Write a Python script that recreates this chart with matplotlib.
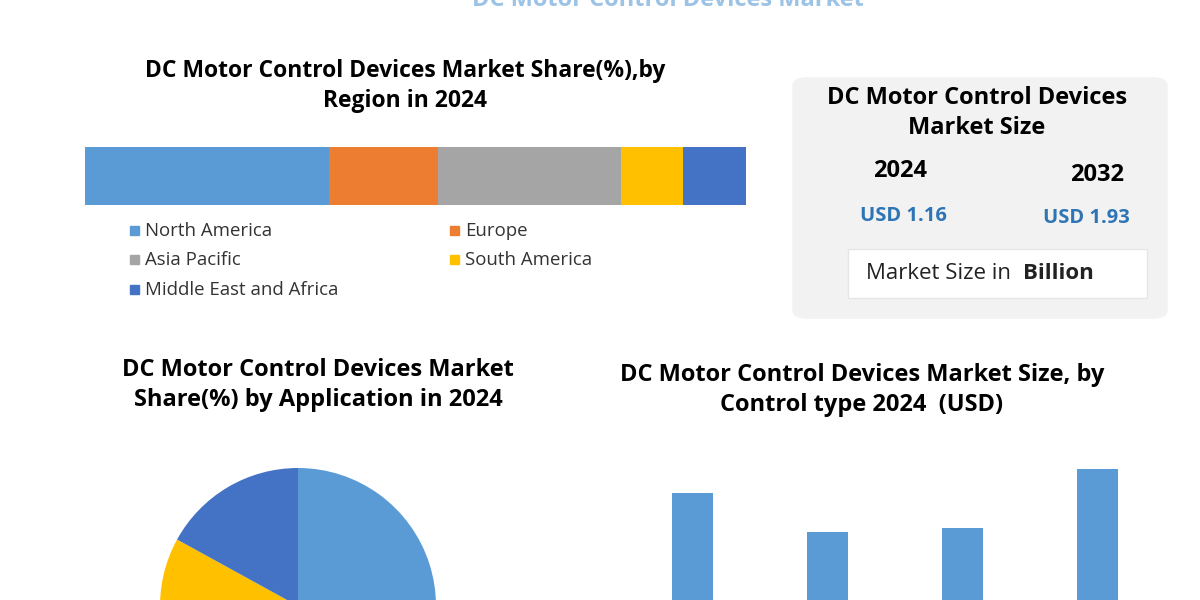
import matplotlib.pyplot as plt
from matplotlib.patches import FancyBboxPatch, Rectangle

plt.rcParams['font.family'] = ['Open Sans', 'DejaVu Sans']

regions = ['North America', 'Europe', 'Asia Pacific', 'South America', 'Middle East and Africa']
region_share = [36.9, 16.5, 27.7, 9.4, 9.5]
region_colors = ['#5b9bd5', '#ed7d31', '#a5a5a5', '#ffc000', '#4472c4']

app_share = [40, 15, 10, 18, 17]
app_colors = ['#5b9bd5', '#ed7d31', '#a5a5a5', '#ffc000', '#4472c4']

control_types = ['A', 'B', 'C', 'D']
control_values = [147, 108, 112, 171]

fig = plt.figure(figsize=(12, 6), dpi=100)
W, H = 1200, 600


def box(x0, y0, x1, y1):
    # pixel box (top-left origin) -> figure fractions
    return [x0 / W, 1 - y1 / H, (x1 - x0) / W, (y1 - y0) / H]


def txt(x, y, s, size, **kw):
    kw.setdefault('ha', 'center')
    kw.setdefault('va', 'center')
    return fig.text(x / W, 1 - y / H, s, fontsize=size, **kw)


# cut-off main title
txt(668, 0, 'DC Motor Control Devices Market', 17, color='#5b9bd5', alpha=0.6, fontweight='bold')

# region stacked bar
txt(405, 86, 'DC Motor Control Devices Market Share(%),by\nRegion in 2024', 16.5,
    fontweight='bold', linespacing=1.3)
ax = fig.add_axes(box(85, 147, 746, 205))
left = 0
for name, v, c in zip(regions, region_share, region_colors):
    ax.barh(0, v, left=left, color=c, height=1)
    left += v
ax.set_xlim(0, sum(region_share))
ax.set_ylim(-0.5, 0.5)
ax.axis('off')
leg_pos = [(130, 231), (450, 231), (130, 260), (450, 260), (130, 290)]
for name, c, (lx, ly) in zip(regions, region_colors, leg_pos):
    fig.patches.append(Rectangle((lx / W, 1 - (ly + 4) / H), 9 / W, 9 / H, color=c,
                                 transform=fig.transFigure))
    txt(lx + 15, ly, name, 13.4, ha='left', color='#333333')

# market size box
fig.patches.append(FancyBboxPatch((793 / W, 1 - 318 / H), 374 / W, 240 / H,
                                  boxstyle='round,pad=0,rounding_size=0.012',
                                  transform=fig.transFigure, color='#f2f2f2', zorder=0))
fig.patches.append(Rectangle((848 / W, 1 - 298 / H), 299 / W, 49 / H, facecolor='white',
                             edgecolor='#e6e6e6', transform=fig.transFigure, zorder=1))
txt(977, 113, 'DC Motor Control Devices\nMarket Size', 17, fontweight='bold', linespacing=1.3)
txt(900, 171, '2024', 17, fontweight='bold')
txt(1097, 175, '2032', 17, fontweight='bold')
txt(903, 216, 'USD 1.16', 14.5, fontweight='bold', color='#2e75b6')
txt(1086, 218, 'USD 1.93', 14.5, fontweight='bold', color='#2e75b6')
txt(866, 273, 'Market Size in', 16, ha='left', color='#222222')
txt(1023, 273, 'Billion', 16, ha='left', fontweight='bold', color='#222222')

# application pie
txt(318, 385, 'DC Motor Control Devices Market\nShare(%) by Application in 2024', 17,
    fontweight='bold', linespacing=1.3)
axp = fig.add_axes(box(160, 468, 436, 744))
axp.pie(app_share, colors=app_colors, startangle=90, counterclock=False, radius=1)
axp.set_xlim(-1, 1)
axp.set_ylim(-1, 1)
axp.set_aspect('equal')

# control type bars
txt(862, 390, 'DC Motor Control Devices Market Size, by\nControl type 2024  (USD)', 17,
    fontweight='bold', linespacing=1.3)
axb = fig.add_axes(box(625, 440, 1165, 640))
axb.bar(range(4), control_values, width=0.31, color='#5b9bd5')
axb.set_xlim(-0.5, 3.5)
axb.set_ylim(0, 200)
axb.axis('off')

fig.savefig('out.png')
